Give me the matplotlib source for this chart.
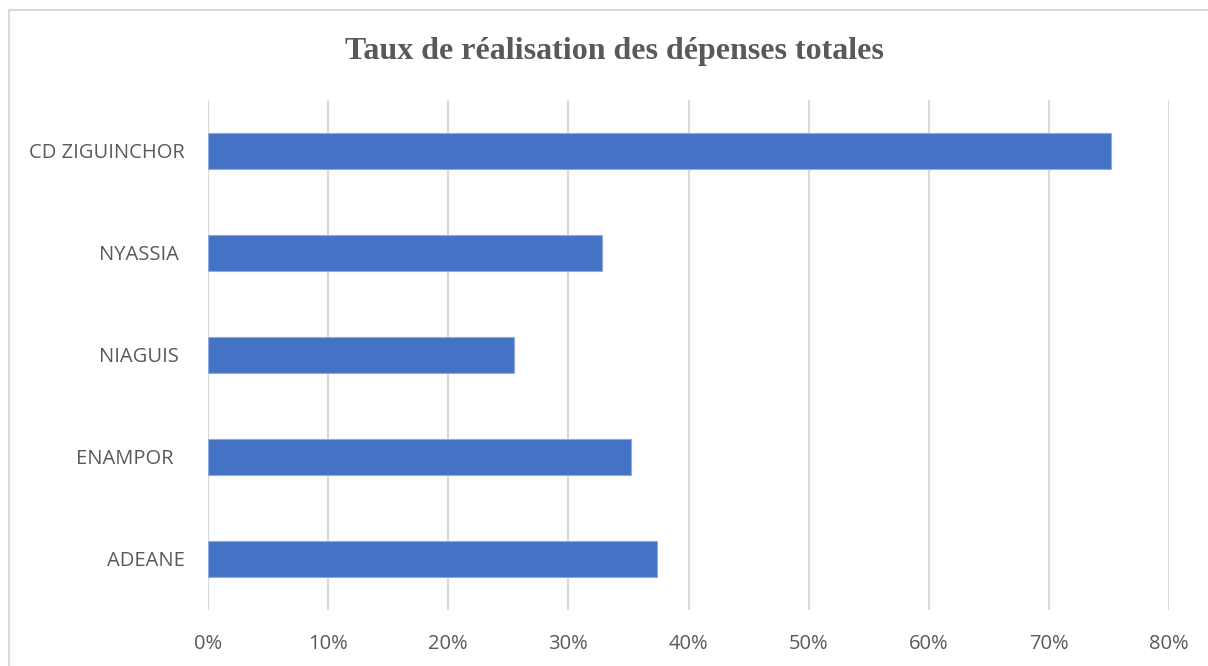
import matplotlib
matplotlib.use("Agg")
import matplotlib.pyplot as plt
from matplotlib.lines import Line2D
from matplotlib.ticker import FuncFormatter

categories = ["CD ZIGUINCHOR", "NYASSIA ", "NIAGUIS ", "ENAMPOR  ", "ADEANE"]
values = [75.2, 32.8, 25.5, 35.2, 37.4]
xticks = [0, 10, 20, 30, 40, 50, 60, 70, 80]
title = "Taux de réalisation des dépenses totales"

W, H = 1208, 666
fig = plt.figure(figsize=(W / 100, H / 100), dpi=100)
fig.patch.set_facecolor("white")

ax = fig.add_axes([208 / W, 1 - 610 / H, (1169 - 208) / W, (610 - 100) / H])

ypos = list(range(len(categories)))
ax.barh(ypos, values, height=0.35, color="#4472C4", edgecolor="#8FAADC",
        linewidth=0.8, zorder=3)
ax.set_ylim(len(categories) - 0.5, -0.5)
ax.set_xlim(0, 80)
ax.set_yticks(ypos)
ax.set_yticklabels(categories)
ax.set_xticks(xticks)
ax.xaxis.set_major_formatter(FuncFormatter(lambda v, p: f"{int(v)}%"))
ax.grid(axis="x", color="#D9D9D9", linewidth=1.5, zorder=0)
ax.grid(axis="y", visible=False)
for s in ax.spines.values():
    s.set_visible(False)
ax.tick_params(axis="both", length=0, labelsize=14.5, labelcolor="#595959")
ax.tick_params(axis="x", pad=17)
ax.tick_params(axis="y", pad=17)
for lab in ax.get_xticklabels() + ax.get_yticklabels():
    lab.set_fontfamily("Open Sans")

fig.text(614 / W, 1 - 52 / H, title, ha="center", va="center",
         fontsize=23, fontweight="bold", color="#595959",
         fontfamily="Liberation Serif")

# outer chart border (top and left edges visible)
fig.add_artist(Line2D([8.5 / W, 8.5 / W], [0, 1 - 10 / H], transform=fig.transFigure,
                      color="#D9D9D9", linewidth=1.5))
fig.add_artist(Line2D([8.5 / W, 1], [1 - 10 / H, 1 - 10 / H], transform=fig.transFigure,
                      color="#D9D9D9", linewidth=1.5))

fig.savefig("out.png", dpi=100)
